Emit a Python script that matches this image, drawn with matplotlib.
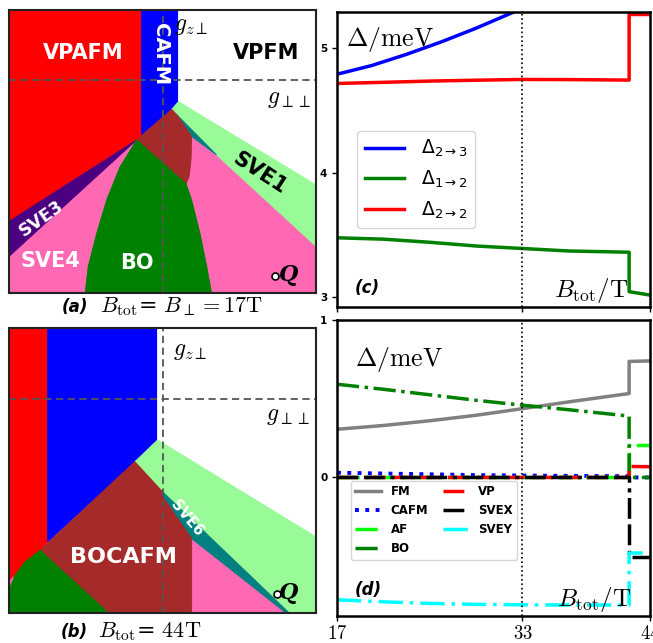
import matplotlib
matplotlib.use('Agg')
import matplotlib.pyplot as plt

plt.rcParams['mathtext.fontset'] = 'cm'

#phase boundaries, the phase-diagram axes run 0..1 in both directions
a_red = [(0, 1), (0.432, 1), (0.432, 0.559), (0.416, 0.541), (0, 0.253)]
a_blue = [(0.432, 1), (0.552, 1), (0.552, 0.676), (0.530, 0.649), (0.432, 0.559)]
a_white = [(0.552, 1), (1, 1), (1, 0.382), (0.552, 0.676)]
a_sve1 = [(0.552, 0.676), (1, 0.382), (1, 0.165), (0.676, 0.488), (0.530, 0.649)]
a_teal = [(0.546, 0.631), (0.676, 0.488), (0.595, 0.553)]
a_indigo = [(0, 0.253), (0.416, 0.541), (0, 0.129)]
a_brown = [(0.416, 0.541), (0.530, 0.649), (0.546, 0.631), (0.595, 0.553),
           (0.593, 0.471), (0.587, 0.412), (0.577, 0.386)]
a_bo = [(0.416, 0.541), (0.577, 0.386), (0.595, 0.329), (0.622, 0.212), (0.644, 0.094),
        (0.660, 0), (0.248, 0), (0.258, 0.094), (0.286, 0.212), (0.318, 0.329), (0.362, 0.447)]

b_red = [(0, 1), (0.126, 1), (0.126, 0.250), (0.101, 0.220), (0.036, 0.152), (0, 0.115)]
b_blue = [(0.126, 1), (0.484, 1), (0.484, 0.607), (0.410, 0.531), (0.126, 0.250)]
b_white = [(0.484, 1), (1, 1), (1, 0.267), (0.484, 0.607)]
b_sve1 = [(0.484, 0.607), (1, 0.267), (1, 0), (0.913, 0), (0.497, 0.429), (0.410, 0.531)]
b_teal = [(0.497, 0.429), (0.913, 0), (0.902, 0), (0.595, 0.261), (0.497, 0.414)]
b_brown = [(0.101, 0.220), (0.410, 0.531), (0.497, 0.429), (0.497, 0.414), (0.595, 0.261),
           (0.595, 0), (0.324, 0)]
b_bo = [(0.101, 0.220), (0.324, 0), (0, 0), (0, 0.082), (0.020, 0.133), (0.052, 0.179)]

#gaps against total field
c_B23 = [17, 20, 23, 26, 29, 32, 33]
c_d23 = [4.79, 4.86, 4.95, 5.05, 5.16, 5.28, 5.32]
B = [17, 21, 25, 29, 33, 37, 42.2, 42.2, 44]
c_d12 = [3.476, 3.465, 3.44, 3.41, 3.39, 3.37, 3.36, 3.043, 3.016]
c_d22 = [4.716, 4.725, 4.735, 4.742, 4.748, 4.747, 4.743, 5.27, 5.27]

d_fm = [0.306, 0.33, 0.36, 0.395, 0.437, 0.48, 0.533, 0.737, 0.74]
d_cafm = [0.03, 0.025, 0.02, 0.015, 0.012, 0.01, 0.008, 0, 0]
d_af = [0, 0, 0, 0, 0, 0, 0, 0.204, 0.204]
d_bo = [0.592, 0.56, 0.525, 0.49, 0.459, 0.43, 0.39, 0, 0]
d_vp = [0, 0, 0, 0, 0, 0, 0, 0.07, 0.068]
d_svex = [0, 0, 0, 0, 0, 0, 0, -0.505, -0.505]
d_svey = [-0.777, -0.79, -0.80, -0.806, -0.809, -0.81, -0.81, -0.48, -0.48]

W, H = 653, 643
fig = plt.figure(figsize=(W/100, H/100), dpi=100)
ax_a = fig.add_axes([9/W, 1-293/H, 307/W, 283/H])
ax_b = fig.add_axes([9/W, 1-613/H, 307/W, 285/H])
ax_c = fig.add_axes([337/W, 1-307/H, 313/W, 295/H])
ax_d = fig.add_axes([337/W, 1-616/H, 313/W, 296/H])


def region(ax, pts, color):
	xs = [p[0] for p in pts]
	ys = [p[1] for p in pts]
	ax.fill(xs, ys, color=color, lw=0.6, ec=color)


def phase_frame(ax, hline):
	ax.set_xlim(0, 1)
	ax.set_ylim(0, 1)
	ax.set_xticks([])
	ax.set_yticks([])
	ax.set_facecolor('#FF69B4')
	for s in ax.spines.values():
		s.set_linewidth(1.5)
		s.set_color('#222222')
	ax.axvline(0.5, color='#555555', ls='--', lw=1.3, dashes=(4, 2.5))
	ax.axhline(hline, color='#555555', ls='--', lw=1.3, dashes=(4, 2.5))


def label(ax, x, y, s, color='white', size=15, rot=0):
	ax.text(x, y, s, color=color, fontsize=size, fontweight='bold', rotation=rot,
			ha='center', va='center', rotation_mode='anchor')


#panel a
region(ax_a, a_red, 'red')
region(ax_a, a_blue, 'blue')
region(ax_a, a_white, 'white')
region(ax_a, a_sve1, '#98FB98')
region(ax_a, a_teal, '#008080')
region(ax_a, a_indigo, '#4B0082')
region(ax_a, a_brown, '#A52A2A')
region(ax_a, a_bo, 'green')
phase_frame(ax_a, 0.753)
label(ax_a, 0.242, 0.847, 'VPAFM')
label(ax_a, 0.492, 0.845, 'CAFM', size=14, rot=270)
label(ax_a, 0.839, 0.847, 'VPFM', color='black')
label(ax_a, 0.818, 0.424, 'SVE1', color='black', size=15, rot=-33)
label(ax_a, 0.105, 0.262, 'SVE3', size=12.5, rot=35)
label(ax_a, 0.134, 0.112, 'SVE4')
label(ax_a, 0.416, 0.106, 'BO')
ax_a.text(0.595, 0.947, r'$g_{z\perp}$', fontsize=17, ha='center', va='center')
ax_a.text(0.913, 0.688, r'$g_{\perp\perp}$', fontsize=17, ha='center', va='center')
ax_a.plot([0.866], [0.061], 'o', mfc='white', mec='black', ms=5, mew=1.2)
ax_a.text(0.91, 0.065, 'Q', family='DejaVu Serif', style='italic', weight='bold',
		  fontsize=16, ha='center', va='center')

#panel b
region(ax_b, b_red, 'red')
region(ax_b, b_blue, 'blue')
region(ax_b, b_white, 'white')
region(ax_b, b_sve1, '#98FB98')
region(ax_b, b_teal, '#008080')
region(ax_b, b_brown, '#A52A2A')
region(ax_b, b_bo, 'green')
phase_frame(ax_b, 0.75)
label(ax_b, 0.373, 0.197, 'BOCAFM', size=16)
label(ax_b, 0.579, 0.332, 'SVE6', size=10.5, rot=-50)
ax_b.text(0.59, 0.924, r'$g_{z\perp}$', fontsize=17, ha='center', va='center')
ax_b.text(0.91, 0.695, r'$g_{\perp\perp}$', fontsize=17, ha='center', va='center')
ax_b.plot([0.872], [0.068], 'o', mfc='white', mec='black', ms=5, mew=1.2)
ax_b.text(0.912, 0.07, 'Q', family='DejaVu Serif', style='italic', weight='bold',
		  fontsize=16, ha='center', va='center')

#captions under the phase diagrams
fig.text(88/W, 1-312/H, '(a)', fontsize=12, weight='bold', style='italic', ha='right')
fig.text(100/W, 1-312/H, r'$B_{\mathrm{tot}}$= $B_{\perp}=17\mathrm{T}$', fontsize=16)
fig.text(88/W, 1-637/H, '(b)', fontsize=12, weight='bold', style='italic', ha='right')
fig.text(98/W, 1-637/H, r'$B_{\mathrm{tot}}$= $44\mathrm{T}$', fontsize=16)


def line_frame(ax):
	ax.set_xlim(17, 44)
	ax.set_xticks([17, 33, 44])
	ax.axvline(33, color='black', ls=':', lw=1.2)
	for s in ax.spines.values():
		s.set_linewidth(1.8)
	ax.tick_params(labelsize=7.5, length=3.5, width=1)
	for t in ax.get_yticklabels():
		t.set_fontweight('bold')


#panel c
ax_c.plot(c_B23, c_d23, color='blue', lw=2.5, label=r'$\Delta_{2\to3}$')
ax_c.plot(B, c_d12, color='green', lw=2.5, label=r'$\Delta_{1\to2}$')
ax_c.plot(B, c_d22, color='red', lw=2.5, label=r'$\Delta_{2\to2}$')
ax_c.set_ylim(2.92, 5.29)
ax_c.set_yticks([3, 4, 5])
line_frame(ax_c)
ax_c.set_xticklabels([])
ax_c.legend(loc='lower left', bbox_to_anchor=(0.035, 0.235),
			prop=dict(size=13.5, math_fontfamily='dejavusans'), handlelength=2.1,
			handletextpad=0.9)
ax_c.text(0.03, 0.885, r'$\Delta/\mathrm{meV}$', fontsize=18.5, transform=ax_c.transAxes)
ax_c.text(0.93, 0.034, r'$B_{\mathrm{tot}}/\mathrm{T}$', fontsize=18, ha='right',
		  transform=ax_c.transAxes)
ax_c.text(0.058, 0.047, '(c)', fontsize=12, weight='bold', style='italic',
		  transform=ax_c.transAxes)

#panel d
ax_d.plot(B, d_fm, color='gray', lw=2.5, label='FM')
ax_d.plot(B, d_cafm, color='blue', lw=2.8, ls=':', label='CAFM')
ax_d.plot(B, d_af, color='lime', lw=2.5, ls='-.', label='AF')
ax_d.plot(B, d_bo, color='green', lw=2.5, ls='-.', label='BO')
ax_d.plot(B, d_vp, color='red', lw=2.5, dashes=(6, 2), label='VP')
ax_d.plot(B, d_svex, color='black', lw=2.5, dashes=(6, 1.6, 6, 1.6, 1.2, 1.6), label='SVEX')
ax_d.plot(B, d_svey, color='cyan', lw=2.5, dashes=(7, 2, 1, 2), label='SVEY')
ax_d.set_ylim(-0.88, 1.0)
ax_d.set_yticks([0, 1])
line_frame(ax_d)
ax_d.set_xticklabels(['$17$', '$33$', '$44$'], fontsize=13.5)
ax_d.tick_params(axis='x', pad=2)
for t in ax_d.get_yticklabels():
	t.set_fontweight('bold')
ax_d.legend(loc='lower left', bbox_to_anchor=(0.025, 0.17), ncol=2,
			prop=dict(size=8.5, weight='bold'), handlelength=2.2, columnspacing=1.2)
ax_d.text(0.058, 0.845, r'$\Delta/\mathrm{meV}$', fontsize=18.5, transform=ax_d.transAxes)
ax_d.text(0.94, 0.034, r'$B_{\mathrm{tot}}/\mathrm{T}$', fontsize=18, ha='right',
		  transform=ax_d.transAxes)
ax_d.text(0.058, 0.071, '(d)', fontsize=12, weight='bold', style='italic',
		  transform=ax_d.transAxes)

fig.savefig('out.png', dpi=100)
